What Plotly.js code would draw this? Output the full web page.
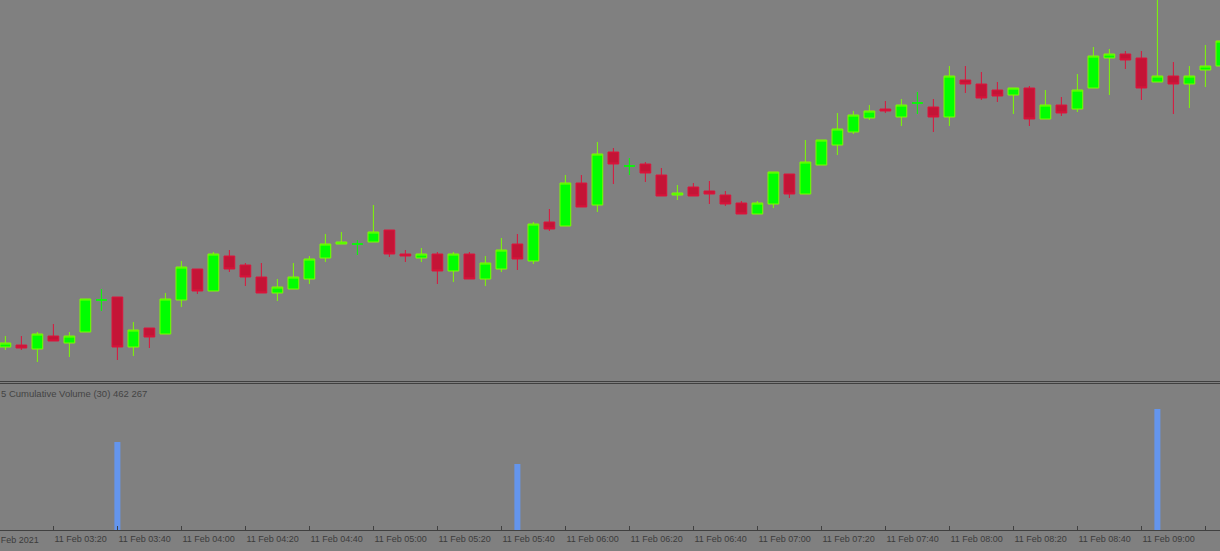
<!DOCTYPE html>
<html><head><meta charset="utf-8">
<script src="https://cdn.plot.ly/plotly-3.0.1.min.js"></script>
<style>html,body{margin:0;padding:0;background:#808080;overflow:hidden}#chart{width:1220px;height:551px}</style>
</head><body><div id="chart"></div>
<script>
// M5 bars, 11 Feb 2021 (price in points; no price scale visible in the reference)
const day = "2021-02-11";
const times = ["03:05","03:10","03:15","03:20","03:25","03:30","03:35","03:40","03:45","03:50","03:55",
  "04:00","04:05","04:10","04:15","04:20","04:25","04:30","04:35","04:40","04:45","04:50","04:55",
  "05:00","05:05","05:10","05:15","05:20","05:25","05:30","05:35","05:40","05:45","05:50","05:55",
  "06:00","06:05","06:10","06:15","06:20","06:25","06:30","06:35","06:40","06:45","06:50","06:55",
  "07:00","07:05","07:10","07:15","07:20","07:25","07:30","07:35","07:40","07:45","07:50","07:55",
  "08:00","08:05","08:10","08:15","08:20","08:25","08:30","08:35","08:40","08:45","08:50","08:55",
  "09:00","09:05","09:10","09:15","09:20","09:25"];
const open = [53,55,51,64,57,68,100,103,53,72, 66,100,131,109,144,135,123,107,111,121,
  142,156,156,158,170,146,142,146,129,146, 121,131,156,139,178,174,217,195,248,234,
  236,225,205,213,209,205,197,186,196,226, 206,235,255,268,282,291,283,297,293,283,
  320,316,310,305,312,281,295,291,312,342, 346,342,318,324,316,330,334];
const high = [64,64,68,76,68,101,111,103,78,72, 107,139,131,148,150,137,137,121,137,144,
  166,168,160,195,170,150,152,148,148,148, 144,162,166,178,191,225,225,258,252,242,
  238,232,215,217,219,209,199,199,228,226, 260,260,287,289,295,299,301,308,301,334,
  334,328,318,312,314,310,303,326,353,351, 349,349,405,338,334,355,362];
const low = [50,50,38,59,43,68,89,40,44,52, 66,93,106,109,128,114,107,99,111,116,
  138,156,145,158,143,138,138,116,118,121, 114,128,130,136,169,174,193,188,216,225,
  218,204,200,204,196,194,186,186,192,202, 206,235,245,266,280,287,274,286,268,274,
  307,300,298,286,274,281,284,288,312,305, 331,300,318,286,292,313,332];
const close = [57,52,66,59,64,101,100,53,70,63, 101,133,109,146,131,123,107,113,123,141,
  156,158,156,168,146,144,146,129,146,121, 137,150,141,176,171,217,193,246,236,234,
  227,204,207,204,206,196,186,197,228,206, 238,260,271,285,289,289,295,297,283,324,
  316,302,304,312,281,295,287,310,344,346, 340,312,324,316,324,334,359];
// "Cumulative Volume (30)" indicator: non-zero bars only
const volTimes = ["03:40","05:45","09:05"];
const volValues = [336000, 252000, 462267];
const indicatorLabel = "5 Cumulative Volume (30) 462 267";
const firstDateLabel = "11 Feb 2021";

const xs = times.map(t => day + " " + t);
const isDoji = open.map((o, i) => o === close[i]);
const pick = (arr, want) => arr.filter((_, i) => isDoji[i] === want);

const mainCandles = {
  type: 'candlestick', xaxis: 'x', yaxis: 'y',
  x: pick(xs, false), open: pick(open, false), high: pick(high, false),
  low: pick(low, false), close: pick(close, false),
  increasing: {line: {color: '#7CFC00', width: 1}, fillcolor: '#00FF00'},
  decreasing: {line: {color: '#DC143C', width: 1}, fillcolor: '#C41436'},
  whiskerwidth: 0, hoverinfo: 'skip', showlegend: false
};
const dojiCandles = {
  type: 'candlestick', xaxis: 'x', yaxis: 'y',
  x: pick(xs, true), open: pick(open, true), high: pick(high, true),
  low: pick(low, true), close: pick(close, true),
  increasing: {line: {color: '#00FF00', width: 1}, fillcolor: '#00FF00'},
  decreasing: {line: {color: '#00FF00', width: 1}, fillcolor: '#00FF00'},
  whiskerwidth: 0, hoverinfo: 'skip', showlegend: false
};
const volume = {
  type: 'bar', xaxis: 'x2', yaxis: 'y2',
  x: volTimes.map(t => day + " " + t), y: volValues,
  width: 112500, marker: {color: '#6495ED', line: {width: 0}},
  hoverinfo: 'skip', showlegend: false
};

const xRange = [day + " 03:03:19", day + " 09:24:34"];
const axisColor = '#404040';
const font = {family: 'Liberation Sans, Arial, sans-serif', size: 9, color: '#3c3c3c'};
const labelFont = {family: 'Liberation Sans, Arial, sans-serif', size: 9.5, color: '#444444'};
const priceBottom = 149 / 530;
const volTop = 146.5 / 530;

const layout = {
  width: 1220, height: 551,
  margin: {l: 0, r: 0, t: 0, b: 21, pad: 0},
  paper_bgcolor: '#808080', plot_bgcolor: '#808080',
  font: font, showlegend: false, hovermode: false, dragmode: false,
  boxgap: 0.3, boxgroupgap: 0.04,
  xaxis: {type: 'date', range: xRange, domain: [0, 1], anchor: 'y',
    showticklabels: false, ticks: '', showgrid: false, zeroline: false,
    showline: true, linecolor: axisColor, linewidth: 1,
    rangeslider: {visible: false}},
  yaxis: {domain: [priceBottom, 1], range: [19, 400], anchor: 'x',
    visible: false, showgrid: false, zeroline: false},
  xaxis2: {type: 'date', range: xRange, domain: [0, 1], anchor: 'y2',
    showgrid: false, zeroline: false,
    showline: true, mirror: true, linecolor: axisColor, linewidth: 1,
    ticks: 'inside', ticklen: 4, tickcolor: axisColor, tickwidth: 1,
    tick0: day + " 03:20", dtick: 20 * 60 * 1000,
    tickformat: '%d %b %H:%M', ticklabelposition: 'outside right',
    tickfont: font},
  yaxis2: {domain: [0, volTop], range: [0, 559700], anchor: 'x2',
    visible: false, showgrid: false, zeroline: false},
  annotations: [
    {xref: 'paper', yref: 'paper', x: 0, y: volTop, xanchor: 'left', yanchor: 'top',
     xshift: -1, yshift: -2, text: indicatorLabel, showarrow: false, font: labelFont},
    {xref: 'paper', yref: 'paper', x: 0, y: 0, xanchor: 'left', yanchor: 'top',
     xshift: -13, yshift: -3, text: firstDateLabel, showarrow: false, font: font}
  ]
};

Plotly.newPlot('chart', [mainCandles, dojiCandles, volume], layout,
  {displayModeBar: false, staticPlot: true});
</script></body></html>
